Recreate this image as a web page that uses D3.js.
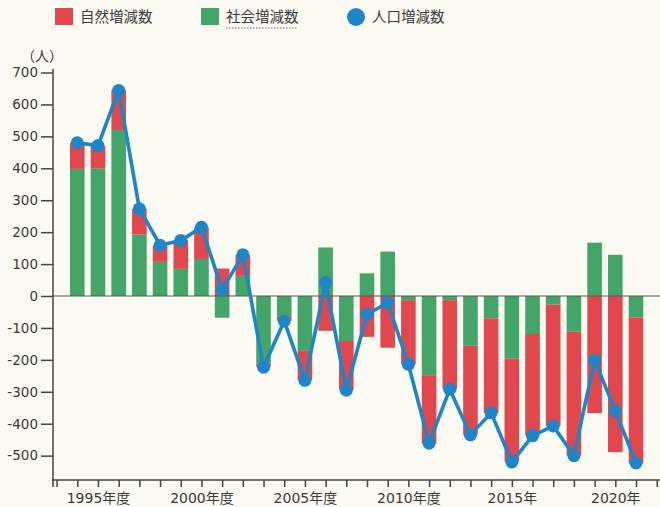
<!DOCTYPE html>
<html><head><meta charset="utf-8">
<script src="https://cdn.jsdelivr.net/npm/d3@7/dist/d3.min.js"></script>
<style>
html,body{margin:0;padding:0;background:#fbfaf3;}
svg{display:block;}
text{font-family:"DejaVu Sans","Noto Sans CJK JP",sans-serif;fill:#3a3a3a;}
</style></head>
<body>
<svg id="chart" width="660" height="507"></svg>
<script>
const years = [1994,1995,1996,1997,1998,1999,2000,2001,2002,2003,2004,2005,2006,2007,2008,2009,2010,2011,2012,2013,2014,2015,2016,2017,2018,2019,2020,2021];
const social = [398,400,520,193,107,85,116,-68,63,-212,-65,-172,152,-141,71,139,-13,-248,-13,-156,-70,-196,-119,-27,-112,167,129,-67];
const natural = [82,70,125,80,51,89,99,86,65,-10,-13,-92,-109,-153,-128,-162,-201,-214,-279,-279,-296,-322,-318,-380,-388,-367,-489,-457];
const total = [480,471,644,273,159,174,215,20,129,-223,-78,-264,42,-295,-57,-21,-214,-461,-292,-435,-366,-520,-438,-407,-500,-201,-360,-523];
const yTicks = [700,600,500,400,300,200,100,0,-100,-200,-300,-400,-500];
const xLabelYears = [1995,2000,2005,2010,2015,2020];
const xLabels = ["1995年度","2000年度","2005年度","2010年度","2015年","2020年"];
const legendNames = ["自然増減数","社会増減数","人口増減数"];
const colors = {natural:"#e2474d", social:"#43a567", total:"#1b87c9"};

const svg = d3.select("#chart");
const x = d3.scaleLinear().domain([1994,2021]).range([77.3,636]);
const y = d3.scaleLinear().domain([0,700]).range([296,72.5]);
const barW = 14.6;

const rows = years.map((yr,i)=>({year:yr, social:social[i], natural:natural[i]}));
const stack = d3.stack().keys(["social","natural"]).offset(d3.stackOffsetDiverging);
const series = stack(rows);

const g = svg.append("g");
series.forEach(s=>{
  g.append("g").selectAll("rect").data(s).join("rect")
    .attr("x", d=>x(d.data.year)-barW/2)
    .attr("width", barW)
    .attr("y", d=>y(Math.max(d[0],d[1])))
    .attr("height", d=>Math.abs(y(d[0])-y(d[1])))
    .attr("fill", colors[s.key]);
});

// zero line
svg.append("line").attr("x1",53).attr("x2",660).attr("y1",y(0)).attr("y2",y(0))
  .attr("stroke","#555").attr("stroke-width",1.2);

// y axis
const yAxis = d3.axisLeft(y).tickValues(yTicks).tickSize(12).tickPadding(3).tickFormat(d=>String(d));
const ya = svg.append("g").attr("transform","translate(53,0)").call(yAxis);
ya.select(".domain").remove();
ya.selectAll(".tick line").attr("stroke","#444").attr("stroke-width",1.5);
ya.selectAll(".tick text").attr("font-size","13.5px").style("fill","#3a3a3a");
svg.append("line").attr("x1",53).attr("x2",53).attr("y1",69).attr("y2",487)
  .attr("stroke","#444").attr("stroke-width",1.5);

// x axis
const allTicks = d3.range(1993,2023);
const xAxis = d3.axisBottom(x).tickValues(allTicks).tickSize(7)
  .tickFormat(d=>{const k=xLabelYears.indexOf(d);return k>=0?xLabels[k]:"";});
const xa = svg.append("g").attr("transform","translate(0,480)").call(xAxis);
xa.select(".domain").remove();
xa.selectAll(".tick line").attr("stroke","#444").attr("stroke-width",1.5);
xa.selectAll(".tick text").attr("font-size","14px").attr("dy","0.95em").style("fill","#3a3a3a");
svg.append("line").attr("x1",52).attr("x2",660).attr("y1",480).attr("y2",480)
  .attr("stroke","#444").attr("stroke-width",1.5);

// total line
const line = d3.line().x((d,i)=>x(years[i])).y(d=>y(d));
svg.append("path").datum(total).attr("d",line).attr("fill","none")
  .attr("stroke",colors.total).attr("stroke-width",3.6).attr("stroke-linejoin","round");
svg.append("g").selectAll("circle").data(total).join("circle")
  .attr("cx",(d,i)=>x(years[i])).attr("cy",d=>y(d)).attr("r",6.5).attr("fill",colors.total);

// unit label
svg.append("text").attr("x",21).attr("y",61).attr("font-size","14px").text("（人）");

// legend
const lg = svg.append("g");
lg.append("rect").attr("x",55).attr("y",8).attr("width",18).attr("height",17).attr("fill",colors.natural);
lg.append("text").attr("x",80).attr("y",22).attr("font-size","14.5px").text(legendNames[0]);
lg.append("rect").attr("x",201).attr("y",8).attr("width",18).attr("height",17).attr("fill",colors.social);
lg.append("text").attr("x",226).attr("y",22).attr("font-size","14.5px").text(legendNames[1]);
lg.append("line").attr("x1",226).attr("x2",297).attr("y1",28).attr("y2",28)
  .attr("stroke","#666").attr("stroke-width",1).attr("stroke-dasharray","1.5,1.5");
lg.append("circle").attr("cx",356).attr("cy",17).attr("r",9).attr("fill",colors.total);
lg.append("text").attr("x",372).attr("y",22).attr("font-size","14.5px").text(legendNames[2]);
</script>
</body></html>
